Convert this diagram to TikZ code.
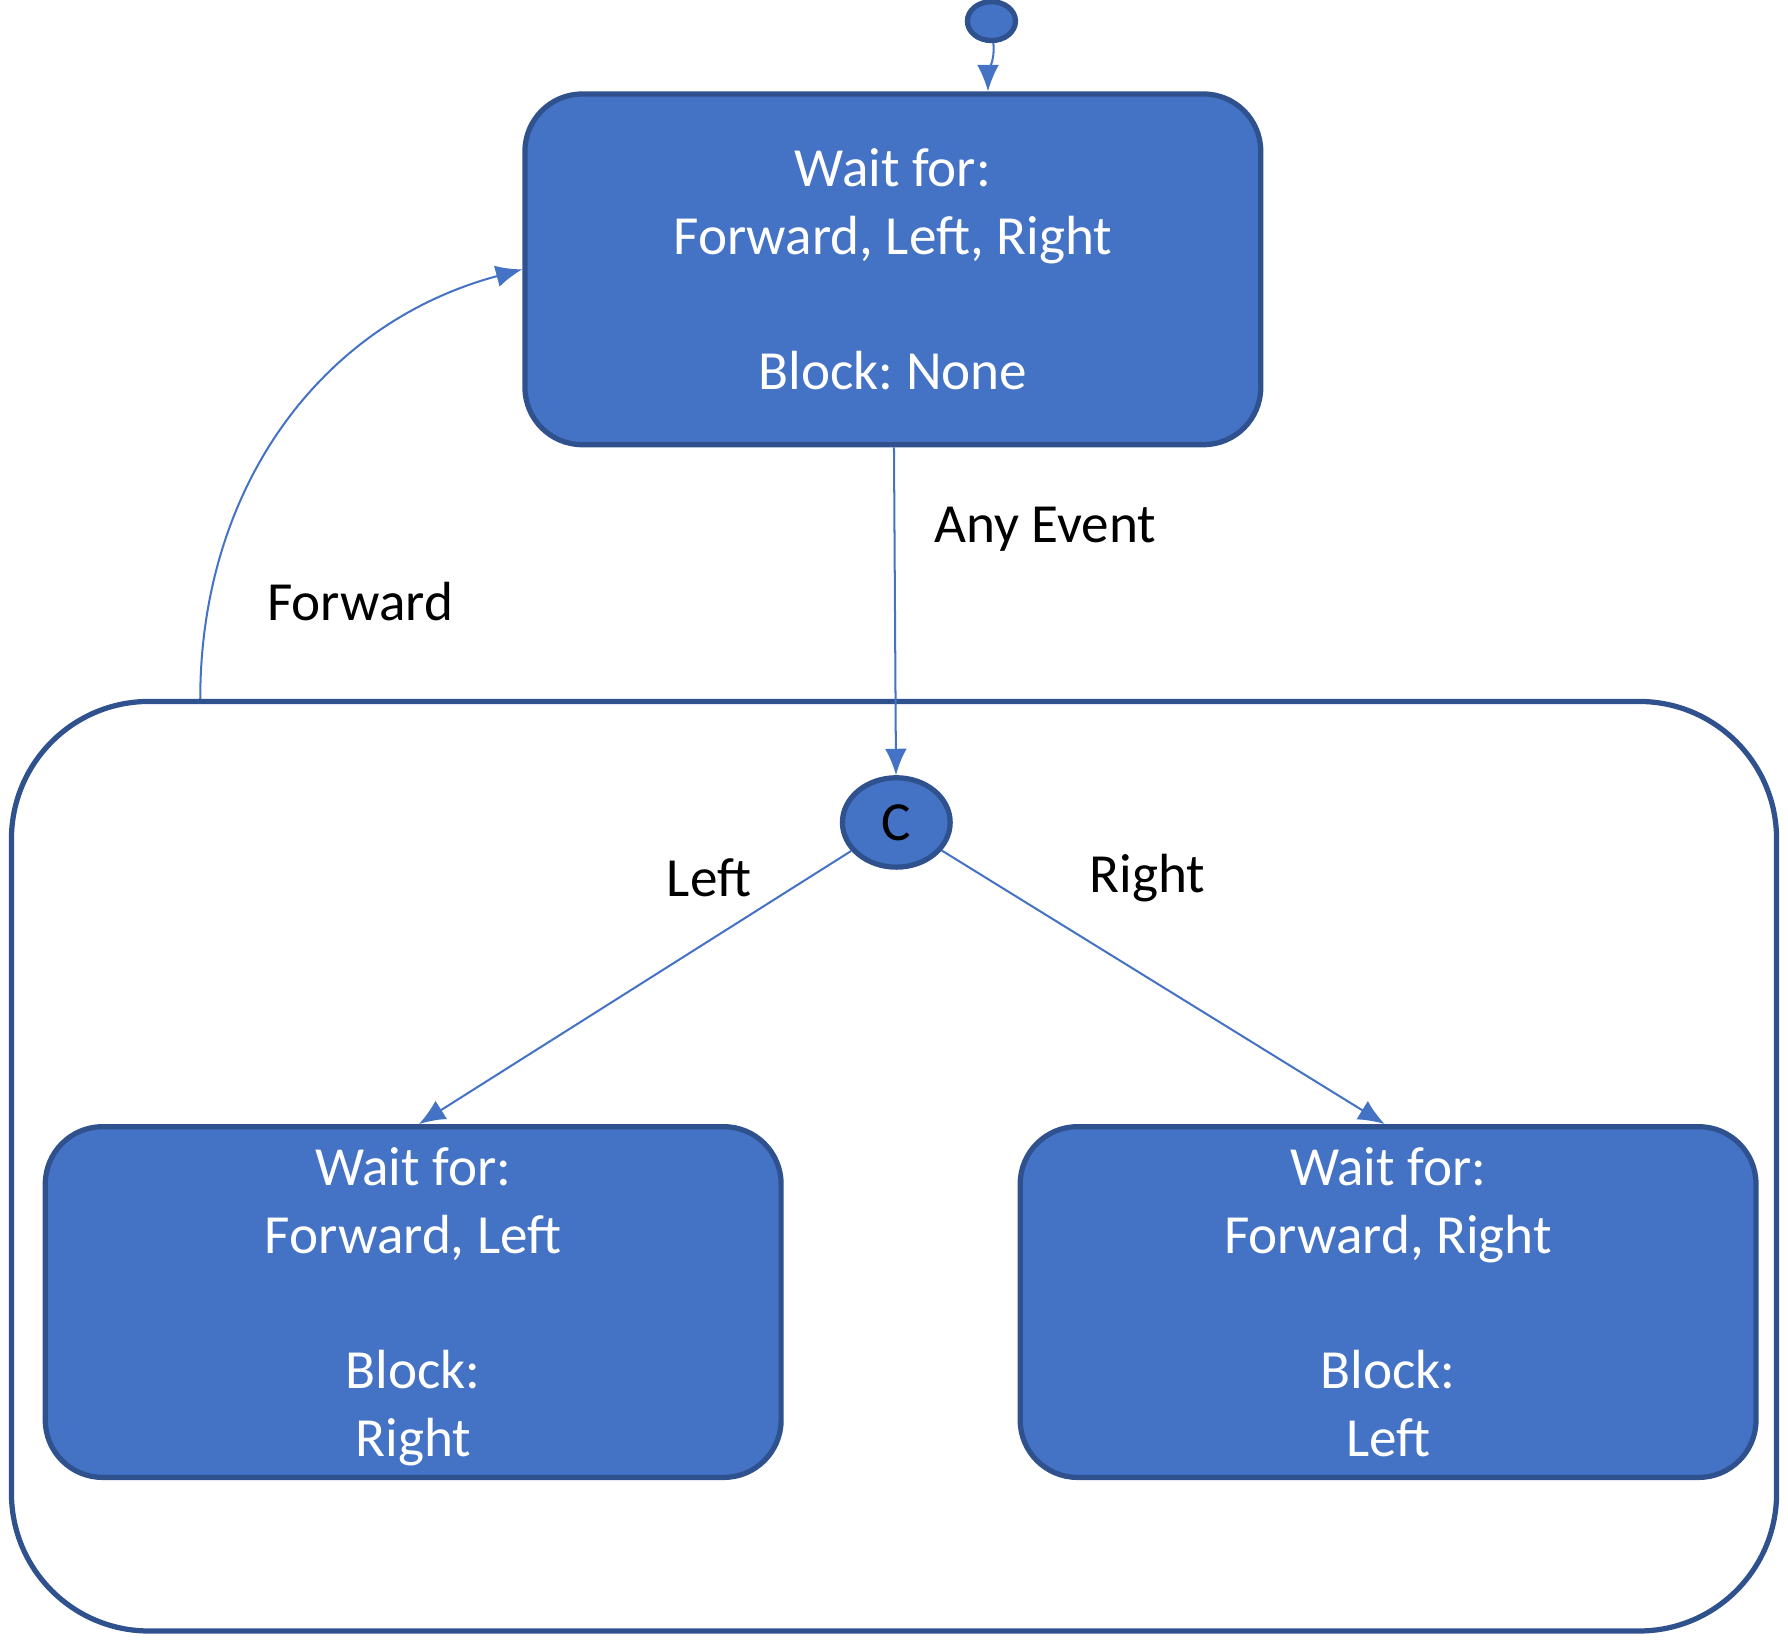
\documentclass[tikz,border=0pt]{standalone}
\usepackage{fontspec}
\setmainfont{Carlito}
\usetikzlibrary{positioning, arrows.meta, shapes.geometric}
\definecolor{boxblue}{HTML}{4472C4}
\definecolor{lineblue}{HTML}{2F528F}
\tikzset{
->, % makes the edges directed
>={Latex[length=2.3mm, width=1.9mm]}, % filled triangle heads
every edge/.style={draw, color=boxblue, line width=0.5pt}, % transitions
wstate/.style={draw=lineblue, fill=boxblue, line width=1.3pt, rounded corners=0.5cm, minimum width=6.42cm, minimum height=3.06cm, text=white, align=center, font=\fontsize{13.7}{16.8}\selectfont}, % the waiting states
choice/.style={ellipse, draw=lineblue, fill=boxblue, line width=1.3pt, minimum width=0.94cm, minimum height=0.78cm, inner sep=0pt, font=\fontsize{13.7}{16.8}\selectfont}, % the C junction
initdot/.style={ellipse, draw=lineblue, fill=boxblue, line width=1.3pt, minimum width=0.42cm, minimum height=0.34cm, inner sep=0pt}, % start point
superstate/.style={draw=lineblue, line width=1.3pt, rounded corners=1.2cm, minimum width=15.4cm, minimum height=8.11cm}, % the outer box
lbl/.style={font=\fontsize{13.7}{16.8}\selectfont, text=black}, % transition labels
}
\frenchspacing
\begin{document}
\begin{tikzpicture}
\useasboundingbox (0,0) rectangle (15.6,14.37);
\node[superstate] (outer) at (7.80,4.195) {};
\node[wstate] (wait) at (7.79,12.02) {Wait for:\\Forward, Left, Right\\~\\Block: None};
\node[initdot, above=0.42cm of wait.north, xshift=0.86cm] (init) {};
\node[choice, below=2.86cm of wait, xshift=0.03cm] (c) {C};
\node[wstate] (waitL) at (3.605,3.01) {Wait for:\\Forward, Left\\~\\Block:\\\smash{Right}};
\node[wstate, right=2.04cm of waitL] (waitR) {Wait for:\\Forward, Right\\~\\Block:\\Left};
\coordinate (fwd) at ([xshift=1.67cm]outer.north west);
\path
    (init) edge[out=-85, in=90] ([xshift=0.83cm]wait.north)
    (wait) edge node[pos=0.25, right=0.22cm, lbl]{Any Event} (c)
    (c) edge node[pos=0.1, left=0.37cm, lbl]{Left} ([xshift=0.05cm]waitL.north)
    (c) edge node[pos=0.1, right=0.78cm, lbl]{Right} ([xshift=-0.03cm]waitR.north)
    (fwd) edge[out=90, in=195] node[pos=0.16, right=0.38cm, lbl]{Forward} (wait.west)
    ;
\end{tikzpicture}
\end{document}
